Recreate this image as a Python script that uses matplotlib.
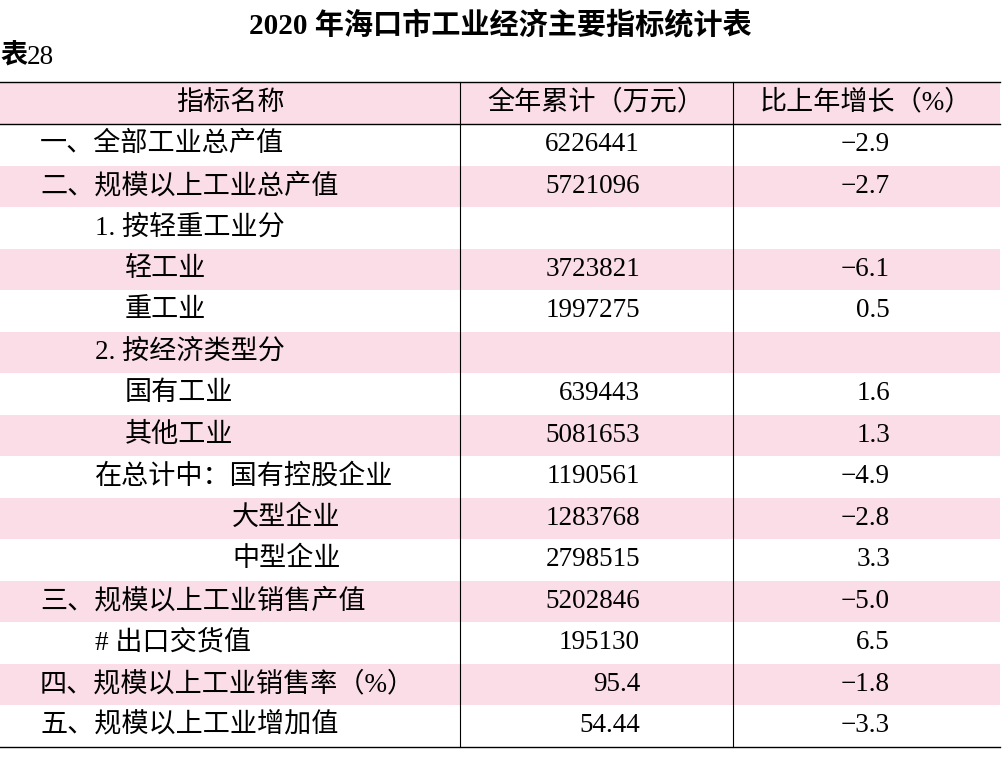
import matplotlib.pyplot as plt
from matplotlib.patches import Rectangle

plt.rcParams['font.family'] = ['Liberation Serif', 'Noto Sans CJK SC']

title = '2020 年海口市工业经济主要指标统计表'
headers = ['指标名称', '全年累计（万元）', '比上年增长（%）']
labels = ['一、全部工业总产值', '二、规模以上工业总产值', '1. 按轻重工业分', '轻工业', '重工业',
          '2. 按经济类型分', '国有工业', '其他工业', '在总计中：国有控股企业', '大型企业',
          '中型企业', '三、规模以上工业销售产值', '# 出口交货值', '四、规模以上工业销售率（%）',
          '五、规模以上工业增加值']
indents = [40, 40, 95, 125, 125, 95, 125, 125, 95, 232, 232, 40, 95, 40, 40]
totals = ['6226441', '5721096', '', '3723821', '1997275', '', '639443', '5081653', '1190561',
          '1283768', '2798515', '5202846', '195130', '95.4', '54.44']
growth = ['−2.9', '−2.7', '', '−6.1', '0.5', '', '1.6', '1.3', '−4.9', '−2.8', '3.3',
          '−5.0', '6.5', '−1.8', '−3.3']

W, H = 1003, 764
fig = plt.figure(figsize=(W / 100, H / 100), dpi=100)
ax = fig.add_axes([0, 0, 1, 1])
ax.set_xlim(0, W)
ax.set_ylim(H, 0)
ax.axis('off')

pink = '#fadde6'
top, head_h, row_h = 82, 42, 41.5
col1, col2 = 460, 733
fs = 19.5

ax.text(500, 25, title, ha='center', va='center', fontsize=21, fontweight='bold')
ax.text(0, 57, '表', ha='left', va='center', fontsize=fs, fontweight='bold')
ax.text(27, 57, '28', ha='left', va='center', fontsize=fs)

ax.add_patch(Rectangle((0, top), 1000, head_h, color=pink, lw=0))
for x, h in zip([230, 596, 866], headers):
    ax.text(x, top + head_h / 2, h, ha='center', va='center', fontsize=fs)

y0 = top + head_h
for i, lab in enumerate(labels):
    y = y0 + i * row_h
    if i % 2 == 1:
        ax.add_patch(Rectangle((0, y), 1000, row_h, color=pink, lw=0))
    cy = y + row_h / 2
    ax.text(indents[i], cy, lab, ha='left', va='center', fontsize=fs)
    ax.text(640, cy, totals[i], ha='right', va='center', fontsize=fs)
    ax.text(890, cy, growth[i], ha='right', va='center', fontsize=fs)

bottom = y0 + len(labels) * row_h
for y in [top, y0, bottom]:
    ax.plot([0, 1000], [y, y], color='black', lw=1)
for x in [col1, col2]:
    ax.plot([x, x], [top, bottom], color='black', lw=0.8)

fig.savefig('out.png', dpi=100)
